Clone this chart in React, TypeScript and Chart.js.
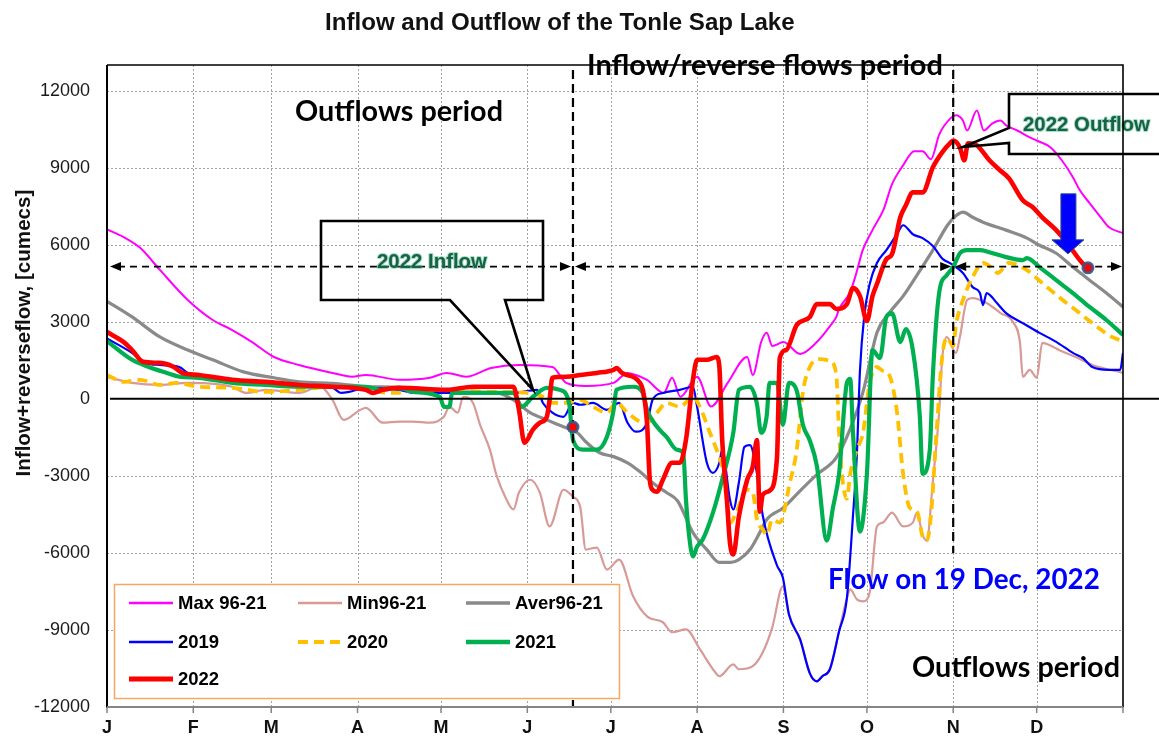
import React, { useEffect, useRef } from "react";
import { Chart, registerables } from "chart.js";

Chart.register(...registerables);

type Pt = [number, number];

// ---------- axes ----------
const monthStartDays = [0, 31, 59, 90, 120, 151, 181, 212, 243, 273, 304, 334, 365];
const monthLabels = ["J", "F", "M", "A", "M", "J", "J", "A", "S", "O", "N", "D", ""];
const yTickValues = [-12000, -9000, -6000, -3000, 0, 3000, 6000, 9000, 12000];

// ---------- series (day of year, cumecs) ----------
const seriesLabels = ["Max 96-21", "Min96-21", "Aver96-21", "2019", "2020", "2021", "2022"];

const max9621: Pt[] = [
  [0, 6600], [6, 6300], [12, 5870], [19, 5020], [29, 3850], [38, 3070], [45, 2680], [52, 2220],
  [60, 1630], [69, 1320], [81, 1010], [88, 860], [93, 930], [105, 740], [116, 820], [122, 1010],
  [129, 860], [138, 1200], [148, 1320], [160, 1240], [165, 620], [172, 500], [182, 620], [187, 1010],
  [190, 930], [194, 740], [200, 230], [203, 820], [206, 80], [212, 860], [217, -300], [223, 620],
  [230, 1630], [232, 930], [235, 2210], [237, 2570], [239, 2060], [243, 2210], [249, 1750], [255, 2210],
  [260, 2870], [262, 3190], [263, 3500], [267, 4160], [269, 4820], [271.5, 5790], [275, 6570], [279, 7380],
  [282, 8350], [286, 9090], [290, 9640], [293, 9640], [296, 9330], [299, 10300], [303, 10920], [305, 11040],
  [307.5, 10840], [309, 10450], [312.5, 11230], [315, 10450], [318, 10720], [321, 10840], [323, 10650],
  [327, 10450], [331.5, 10180], [334, 10060], [339, 9790], [343, 9290], [347, 8630], [349.5, 8120],
  [353, 7620], [357, 7070], [360, 6680], [365, 6450],
];

const min9621: Pt[] = [
  [0, 850], [9, 620], [19, 540], [29, 620], [45, 470], [50, 230], [57, 350], [69, 230], [76.5, 470],
  [81, -40], [85, -820], [91, -430], [93, -350], [99, -930], [105, -890], [110, -890], [116, -930],
  [121, -700], [123, -310], [126, -540], [128, 80], [131.5, -160], [134, -1000], [137.6, -2000],
  [140, -3000], [143, -3800], [146, -4310], [148, -3650], [152, -3150], [155.5, -3650], [159, -4970],
  [164, -3540], [167.4, -3810], [170, -4200], [172, -5870], [176, -5790], [179.6, -6650], [184, -6260],
  [189, -7690], [194, -8470], [199.7, -8700], [203, -9090], [208, -8980], [213, -9750], [217.7, -10530],
  [220, -10800], [225, -10340], [227, -10530], [232, -10410], [235.6, -9870], [239, -8900], [242.8, -7300],
  [245, -8400], [249, -9370], [252.5, -10690], [255, -11000], [257, -10800], [259.7, -10530], [263, -9050],
  [265.8, -7770], [267, -7420], [269.4, -7810], [271.6, -7890], [274, -7540], [276.6, -4970], [278.7, -4820],
  [282, -4430], [286, -4970], [289.5, -4820], [291, -4430], [293, -5300], [294.5, -5520], [296.7, -3200],
  [299, -430], [300, 1520], [301.7, 2400], [305, 1790], [306.4, 2410], [309, 3850], [311, 3920], [316, 3730],
  [321, 3340], [325.4, 3000], [328, 2180], [329, 860], [331.5, 1130], [334, 820], [336, 2180], [340, 2020],
  [342, 1900], [348, 1630], [354, 1320], [365, 1010],
];

const aver9621: Pt[] = [
  [0, 3800], [9, 3190], [19, 2410], [29, 1900], [38, 1520], [49, 1050], [60, 820], [69, 660], [81, 600],
  [93, 480], [105, 450], [122, 270], [140, 230], [146, -40], [152, -540], [158, -820], [164, -1090],
  [169, -1320], [172, -1670], [177, -2100], [182, -2250], [187, -2490], [191.5, -2840], [196, -3270],
  [201, -3650], [205, -3980], [210.5, -5210], [215.5, -5870], [220, -6370], [224, -6370], [227, -6260],
  [231, -5870], [234.5, -5210], [237, -4700], [243, -4240], [249, -3580], [255, -2950], [262, -2290],
  [267, -1170], [271.6, 270], [276.6, 2570], [281, 3340], [286, 4000], [291, 4820], [296.7, 5790],
  [301.7, 6720], [304, 7030], [307.5, 7270], [311, 7070], [314.7, 6880], [323, 6570], [330.5, 6260],
  [335, 5980], [341, 5670], [347, 5130], [353, 4620], [359, 4120], [365, 3580],
];

const y2019: Pt[] = [
  [0, 2350], [9, 1790], [14, 1400], [19, 1320], [26, 1240], [29, 1010], [45, 740], [57, 620], [69, 470],
  [81, 430], [84, 230], [87, 270], [93, 430], [105, 350], [110, 230], [122, 230], [134, 230], [146, 230],
  [154.5, 350], [156.6, -160], [160, -540], [164, -700], [167.4, -160], [170, -230], [174.6, -160],
  [179.6, -430], [184, -160], [187, -930], [190, -1280], [194, -930], [196, -40], [199.7, 230],
  [205.8, 350], [210.5, 470], [212, -310], [215.5, -2490], [217.7, -2880], [220, -2490], [221, -1980],
  [223.8, -3930], [225, -4310], [227, -3260], [229, -1870], [231, -1800], [233.5, -2900], [235.6, -4550],
  [240.7, -6490], [242.8, -6960], [245, -8400], [249, -9370], [252.5, -10690], [255, -11000], [257, -10800],
  [259.7, -10530], [263, -9050], [265.8, -7770], [268, -4550], [269.4, -2140], [270.5, 1090], [272, 3190],
  [274, 4470], [276.6, 5290], [280, 5790], [283.8, 6410], [286, 6760], [289.5, 6410], [293, 6260],
  [296.7, 5950], [300.3, 5440], [302.8, 5290], [304, 5210], [307.5, 4900], [311, 4350], [313.6, 4120],
  [314.7, 3650], [316, 4120], [319.7, 3730], [323, 3340], [329, 2950], [335, 2570], [341, 2220],
  [347, 1790], [350.6, 1590], [354, 1240], [360, 1130], [364, 1130], [365, 1790],
];

const y2020: Pt[] = [
  [0, 930], [6, 660], [12, 740], [19, 540], [25, 620], [33, 470], [45, 430], [57, 270], [69, 350],
  [81, 470], [93, 430], [98, 270], [104, 230], [110, 350], [122, 350], [137.6, 270], [152, 230],
  [156.6, 80], [160, -160], [165, -160], [170, -40], [174.6, -310], [179.6, -540], [183, -160],
  [187, -540], [191.5, -890], [194, -930], [197.6, -540], [201, -160], [205.8, -310], [210.5, 80],
  [213, -310], [216.6, -1320], [219, -1980], [221, -2640], [222.7, -3930], [224, -4820], [226, -4430],
  [230, -3540], [232, -3650], [233.5, -4700], [235.6, -5090], [237, -5290], [239, -4700], [241.7, -4820],
  [242.8, -4600], [245, -3420], [247.8, -1980], [250, 270], [252.5, 1240], [256, 1550], [259.7, 1480],
  [262, 930], [263, -1320], [264, -2920], [265.8, -3890], [267, -2920], [269.4, -1980], [271.6, -1320],
  [274, 620], [276.6, 1240], [278.7, 1090], [281, 930], [283.8, -510], [286, -2920], [288.4, -4240],
  [291, -4390], [293, -5360], [294.5, -5520], [296, -4550], [298, -1320], [300, 1590], [301.7, 2370],
  [304, 2060], [305, 2880], [307.5, 3850], [311, 4740], [314.7, 5290], [318, 5090], [320, 4900],
  [324, 5290], [330.5, 5010], [336, 4510], [342, 3960], [348, 3460], [354, 2950], [361, 2410], [365, 2250],
];

const y2021: Pt[] = [
  [0, 2250], [9, 1520], [15, 1240], [21.5, 1010], [26, 860], [33, 820], [45, 620], [57, 540], [69, 470],
  [81, 470], [93, 470], [98, 350], [105, 430], [110, 270], [119.6, 80], [121, -310], [123, -310],
  [124, 230], [134, 230], [146, 230], [149, -310], [153, 80], [158, 430], [162.7, 350], [166, -160],
  [167.4, -1590], [171, -1980], [176, -1980], [179.6, -1480], [182, -430], [183, 350], [189, 470],
  [192.5, 230], [194, -430], [197.6, -1090], [201, -1480], [204.7, -1980], [207, -2100], [208, -3930],
  [209, -5210], [210.5, -6140], [212, -5750], [214, -5480], [217.7, -4430], [221, -3150], [225, -1320],
  [227, 350], [231, 470], [233.5, -200], [235, -1320], [237, -660], [238, 620], [240.7, 620],
  [242.8, -1010], [245, 620], [247.8, 310], [250, -1010], [252.5, -1630], [255, -2600], [258.6, -5520],
  [260.8, -4240], [263, -2920], [265.8, 620], [267, 780], [268, -1320], [270.5, -5170], [273, -2920],
  [275, 1900], [277.7, 1590], [280, 3190], [282, 3340], [285, 2210], [287, 2720], [289.5, 1900],
  [292, -660], [293, -2920], [295.6, -1980], [296.7, 930], [299, 4160], [301.7, 4820], [304, 5130],
  [306.4, 5670], [309, 5790], [313.6, 5790], [317, 5710], [323, 5520], [329, 5400], [330.5, 5480],
  [335, 5130], [341, 4620], [347, 4120], [353, 3580], [359, 3070], [365, 2490],
];

const y2022: Pt[] = [
  [0, 2600], [6, 2210], [9, 1900], [13, 1440], [19, 1400], [24, 1240], [27, 1010], [33, 930], [45, 740],
  [57, 660], [69, 540], [81, 470], [93, 350], [95.5, 230], [99, 350], [105, 430], [122, 350],
  [131.5, 470], [146, 470], [148, -430], [150, -1710], [153, -1200], [155.5, -930], [158, -700],
  [159, -40], [160, 820], [165, 860], [170, 930], [176, 1010], [182, 1130], [183, 1200], [185, 1010],
  [191.5, 620], [192.5, 350], [194, -930], [195, -3150], [196, -3540], [197.6, -3620], [199.7, -3150],
  [203, -2490], [205.8, -2490], [208, -1590], [210.5, 740], [212, 1520], [215.5, 1520], [219, 1630],
  [220, 1240], [221, -1590], [222.7, -3930], [223.8, -5600], [225, -6060], [227, -4590], [230, -3150],
  [232, -2640], [233.5, -1600], [234.5, -4390], [235.6, -3730], [238, -3580], [240.7, -2290],
  [241.7, 1590], [244, 1900], [247.8, 2880], [252.5, 3190], [255, 3690], [259.7, 3690], [262, 3500],
  [265.8, 3690], [268, 4310], [270.5, 4000], [273, 3030], [275, 4000], [276.6, 4470], [280, 5440],
  [282, 5630], [285, 7070], [287, 7540], [289.5, 8040], [293, 8040], [296.7, 9020], [300.3, 9640],
  [302.8, 9950], [304, 10060], [306.4, 9790], [308, 9290], [309.3, 9950], [312.5, 9870], [317, 9290],
  [320.8, 8900], [324, 8590], [329, 7730], [332.6, 7460], [336, 7070], [341, 6570], [345, 6060],
  [349.5, 5400], [352, 5100],
];

// annotation values
const markerDays = [167.4, 352.4];
const markerValues = [-1100, 5100];
const periodBoundaryDays = [167.4, 304];
const boundaryBottomValues = [-12000, -6000];
const flowLevel = 5150;

const seriesData: Pt[][] = [max9621, min9621, aver9621, y2019, y2020, y2021, y2022];

// ---------- styles ----------
const ARIAL = "'Liberation Sans', Arial, sans-serif";
const CALIBRI = "Lato, 'Open Sans', sans-serif";

const seriesStyles = [
  { color: "#ff00ff", width: 2, dash: [] as number[], order: 6 },
  { color: "#d89a96", width: 2.2, dash: [] as number[], order: 7 },
  { color: "#8a8a8a", width: 3.2, dash: [] as number[], order: 5 },
  { color: "#0000ff", width: 2.2, dash: [] as number[], order: 4 },
  { color: "#ffc000", width: 3.8, dash: [10, 6], order: 3 },
  { color: "#00b050", width: 4.2, dash: [] as number[], order: 2 },
  { color: "#ff0000", width: 4.6, dash: [] as number[], order: 1 },
];

function fitText(ctx: any, text: string, left: number, baseline: number, width: number,
  weight: string, family: string, color: string, glow?: string) {
  ctx.save();
  ctx.font = `${weight} 100px ${family}`;
  const w = ctx.measureText(text).width;
  const size = (100 * width) / w;
  ctx.font = `${weight} ${size}px ${family}`;
  ctx.textAlign = "left";
  ctx.textBaseline = "alphabetic";
  if (glow) {
    ctx.strokeStyle = glow;
    ctx.lineWidth = 2;
    ctx.lineJoin = "round";
    ctx.strokeText(text, left, baseline);
  }
  ctx.fillStyle = color;
  ctx.fillText(text, left, baseline);
  ctx.restore();
}

function arrowHead(ctx: any, tipX: number, y: number, dir: number) {
  ctx.beginPath();
  ctx.moveTo(tipX, y);
  ctx.lineTo(tipX - dir * 11, y - 4.5);
  ctx.lineTo(tipX - dir * 11, y + 4.5);
  ctx.closePath();
  ctx.fill();
}

const overlayPlugin = {
  id: "overlay",
  beforeDatasetsDraw(chart: any) {
    const { ctx, chartArea: a } = chart;
    const x = chart.scales.x;
    const y = chart.scales.y;
    ctx.save();
    ctx.strokeStyle = "#a3a3a3";
    ctx.lineWidth = 1;
    ctx.setLineDash([2, 2]);
    ctx.beginPath();
    for (const v of yTickValues) {
      if (v <= yTickValues[0] || v === 0) continue;
      const py = Math.round(y.getPixelForValue(v)) + 0.5;
      ctx.moveTo(a.left, py);
      ctx.lineTo(a.right, py);
    }
    for (const d of monthStartDays) {
      if (d <= 0 || d >= 365) continue;
      const px = Math.round(x.getPixelForValue(d)) + 0.5;
      ctx.moveTo(px, a.top);
      ctx.lineTo(px, a.bottom);
    }
    ctx.stroke();
    ctx.restore();
  },
  afterDatasetsDraw(chart: any) {
    const { ctx, chartArea: a } = chart;
    const x = chart.scales.x;
    const y = chart.scales.y;
    const W = chart.width;
    ctx.save();

    // zero line
    const y0 = y.getPixelForValue(0);
    ctx.strokeStyle = "#000";
    ctx.lineWidth = 2;
    ctx.beginPath();
    ctx.moveTo(a.left + 3, y0);
    ctx.lineTo(W, y0);
    ctx.stroke();

    // period boundaries (vertical dashed)
    const xb = periodBoundaryDays.map((d) => x.getPixelForValue(d));
    ctx.setLineDash([9, 5]);
    ctx.lineWidth = 2.2;
    xb.forEach((px, i) => {
      ctx.beginPath();
      ctx.moveTo(px, a.top + 5);
      ctx.lineTo(px, y.getPixelForValue(boundaryBottomValues[i]));
      ctx.stroke();
    });

    // horizontal arrows at flow level
    const yl = y.getPixelForValue(flowLevel);
    const segs = [
      [a.left + 3, xb[0] - 2],
      [xb[0] + 2, xb[1] - 2],
      [xb[1] + 2, a.right - 1],
    ];
    ctx.setLineDash([7, 5]);
    ctx.lineWidth = 1.8;
    for (const [s, e] of segs) {
      ctx.beginPath();
      ctx.moveTo(s + 8, yl);
      ctx.lineTo(e - 8, yl);
      ctx.stroke();
    }
    ctx.setLineDash([]);
    ctx.fillStyle = "#000";
    for (const [s, e] of segs) {
      arrowHead(ctx, s, yl, -1);
      arrowHead(ctx, e, yl, 1);
    }

    // period texts
    fitText(ctx, "Outflows period", 295, 121, 208, "bold", CALIBRI, "#000");
    fitText(ctx, "Inflow/reverse flows period", 587, 75, 356, "bold", CALIBRI, "#000");
    fitText(ctx, "Outflows period", 912, 677, 208, "bold", CALIBRI, "#000");
    fitText(ctx, "Flow on 19 Dec, 2022", 828, 589, 272, "bold", CALIBRI, "#0000ff");

    // callouts
    ctx.strokeStyle = "#000";
    ctx.lineWidth = 2.6;
    ctx.lineJoin = "miter";
    ctx.beginPath();
    ctx.moveTo(321, 221);
    ctx.lineTo(543, 221);
    ctx.lineTo(543, 300);
    ctx.lineTo(505, 300);
    ctx.lineTo(533, 390);
    ctx.lineTo(450, 300);
    ctx.lineTo(321, 300);
    ctx.closePath();
    ctx.stroke();

    ctx.beginPath();
    ctx.moveTo(W + 10, 94);
    ctx.lineTo(1009, 94);
    ctx.lineTo(1009, 128);
    ctx.lineTo(963, 147);
    ctx.lineTo(1009, 143);
    ctx.lineTo(1009, 154);
    ctx.lineTo(W + 10, 154);
    ctx.stroke();

    fitText(ctx, "2022 Inflow", 377, 268, 110, "bold", ARIAL, "#1b604c", "rgba(90,200,140,0.55)");
    fitText(ctx, "2022 Outflow", 1023, 131, 127, "bold", ARIAL, "#1b604c", "rgba(90,200,140,0.55)");

    // markers
    const mk = markerDays.map((d, i) => [x.getPixelForValue(d), y.getPixelForValue(markerValues[i])]);

    // blue arrow pointing at the 19 Dec marker
    const [dx, dy] = mk[1];
    ctx.beginPath();
    ctx.moveTo(dx - 27, dy - 74);
    ctx.lineTo(dx - 12, dy - 74);
    ctx.lineTo(dx - 12, dy - 28);
    ctx.lineTo(dx - 4, dy - 28);
    ctx.lineTo(dx - 20, dy - 14);
    ctx.lineTo(dx - 36, dy - 28);
    ctx.lineTo(dx - 27, dy - 28);
    ctx.closePath();
    ctx.fillStyle = "#0000ff";
    ctx.fill();
    ctx.strokeStyle = "#2d4a8a";
    ctx.lineWidth = 1;
    ctx.stroke();

    for (const [px, py] of mk) {
      ctx.beginPath();
      ctx.arc(px, py, 5, 0, Math.PI * 2);
      ctx.fillStyle = "#ff0000";
      ctx.fill();
      ctx.strokeStyle = "rgba(55,85,135,0.9)";
      ctx.lineWidth = 3;
      ctx.stroke();
    }

    // frame
    ctx.strokeStyle = "#000";
    ctx.lineWidth = 1.6;
    ctx.beginPath();
    ctx.moveTo(a.left, a.top);
    ctx.lineTo(a.right, a.top);
    ctx.lineTo(a.right, a.bottom);
    ctx.stroke();
    ctx.lineWidth = 2;
    ctx.beginPath();
    ctx.moveTo(a.left, a.top);
    ctx.lineTo(a.left, a.bottom + 1);
    ctx.stroke();
    ctx.strokeStyle = "#858585";
    ctx.beginPath();
    ctx.moveTo(a.left, a.bottom);
    ctx.lineTo(a.right, a.bottom);
    ctx.stroke();
    ctx.lineWidth = 1.5;
    ctx.beginPath();
    for (const d of monthStartDays) {
      const px = x.getPixelForValue(d);
      ctx.moveTo(px, a.bottom);
      ctx.lineTo(px, a.bottom + 6);
    }
    ctx.stroke();

    // legend
    ctx.fillStyle = "#fff";
    ctx.fillRect(114.5, 584.5, 505, 114);
    ctx.strokeStyle = "#f5a862";
    ctx.lineWidth = 1.5;
    ctx.strokeRect(114.5, 584.5, 505, 114);
    const cols = [129, 298, 466];
    const rows = [603, 642, 679];
    ctx.font = `bold 18.5px ${ARIAL}`;
    ctx.textBaseline = "middle";
    ctx.textAlign = "left";
    chart.data.datasets.forEach((ds: any, i: number) => {
      const lx = cols[i % 3];
      const ly = rows[Math.floor(i / 3)];
      ctx.save();
      ctx.strokeStyle = ds.borderColor;
      ctx.lineWidth = ds.borderWidth + 0.4;
      ctx.setLineDash(ds.borderDash || []);
      ctx.beginPath();
      ctx.moveTo(lx, ly);
      ctx.lineTo(lx + 44, ly);
      ctx.stroke();
      ctx.restore();
      ctx.fillStyle = "#000";
      ctx.fillText(ds.label, lx + 49, ly + 1);
    });

    // title
    fitText(ctx, "Inflow and Outflow of the Tonle Sap Lake", 325, 30, 470, "bold", ARIAL, "#111");

    // y-axis title
    ctx.save();
    ctx.translate(30, 333);
    ctx.rotate(-Math.PI / 2);
    fitText(ctx, "Inflow+reverseflow, [cumecs]", -143.5, 0, 287, "bold", ARIAL, "#111");
    ctx.restore();

    ctx.restore();
  },
};

export default function App() {
  const canvasRef = useRef<HTMLCanvasElement | null>(null);

  useEffect(() => {
    const canvas = canvasRef.current;
    if (!canvas) return;
    const datasets = seriesData.map((pts, i) => ({
      label: seriesLabels[i],
      data: pts.map(([d, v]) => ({ x: d, y: v })),
      borderColor: seriesStyles[i].color,
      backgroundColor: seriesStyles[i].color,
      borderWidth: seriesStyles[i].width,
      borderDash: seriesStyles[i].dash,
      order: seriesStyles[i].order,
      pointRadius: 0,
      fill: false,
      cubicInterpolationMode: "monotone" as const,
      borderCapStyle: "butt" as const,
      borderJoinStyle: "round" as const,
    }));

    const chart = new Chart(canvas, {
      type: "line",
      data: { datasets },
      options: {
        animation: false,
        responsive: false,
        maintainAspectRatio: false,
        events: [],
        layout: { padding: { top: 65, right: 36, left: 0, bottom: 0 } },
        plugins: {
          legend: { display: false },
          title: { display: false },
          tooltip: { enabled: false },
        },
        scales: {
          x: {
            type: "linear",
            min: 0,
            max: 365,
            grid: { display: false, drawTicks: false },
            border: { display: false },
            afterBuildTicks: (s: any) => {
              s.ticks = monthStartDays.map((v) => ({ value: v }));
            },
            afterFit: (s: any) => {
              s.height = 30;
            },
            ticks: {
              autoSkip: false,
              maxRotation: 0,
              minRotation: 0,
              padding: 10,
              color: "#111",
              font: { family: ARIAL, size: 18, weight: "bold" },
              callback: (value: any) => {
                const i = monthStartDays.indexOf(Number(value));
                return i >= 0 ? monthLabels[i] : "";
              },
            },
          },
          y: {
            type: "linear",
            min: -12000,
            max: 13000,
            grid: { display: false, drawTicks: false },
            border: { display: false },
            afterBuildTicks: (s: any) => {
              s.ticks = yTickValues.map((v) => ({ value: v }));
            },
            afterFit: (s: any) => {
              s.width = 107;
            },
            ticks: {
              autoSkip: false,
              padding: 17,
              color: "#1a1a1a",
              font: { family: ARIAL, size: 18 },
              callback: (value: any) => String(value),
            },
          },
        },
      } as any,
      plugins: [overlayPlugin],
    });

    let alive = true;
    if ((document as any).fonts && (document as any).fonts.ready) {
      (document as any).fonts.ready.then(() => {
        if (alive) chart.draw();
      });
    }
    return () => {
      alive = false;
      chart.destroy();
    };
  }, []);

  return (
    <div style={{ position: "absolute", left: 0, top: 0, width: 1159, height: 737, background: "#fff" }}>
      <canvas ref={canvasRef} width={1159} height={737} style={{ display: "block", width: 1159, height: 737 }} />
    </div>
  );
}
